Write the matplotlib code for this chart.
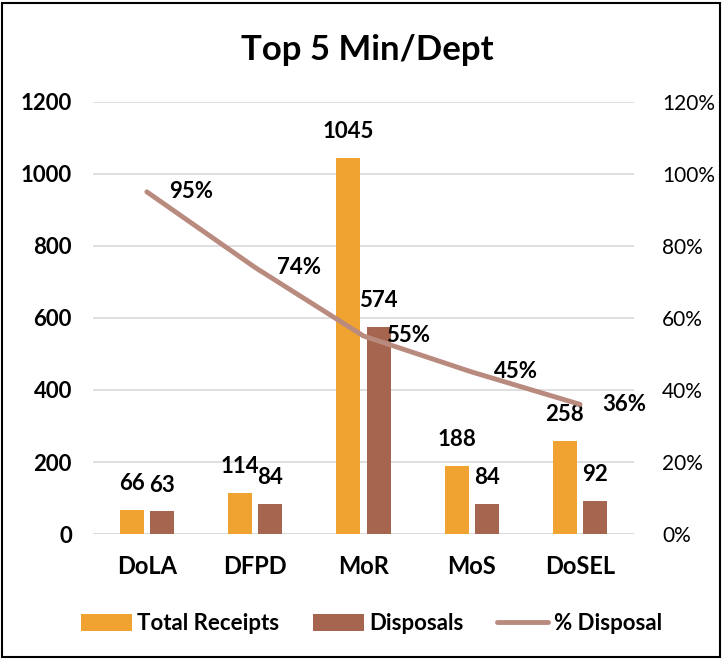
import matplotlib
matplotlib.use("Agg")
import matplotlib.pyplot as plt
import numpy as np
from matplotlib.patches import Rectangle

fam = ["Lato", "DejaVu Sans"]
plt.rcParams['font.family'] = fam

categories = ["DoLA", "DFPD", "MoR", "MoS", "DoSEL"]
total_receipts = [66, 114, 1045, 188, 258]
disposals = [63, 84, 574, 84, 92]
pct_disposal = [95, 74, 55, 45, 36]
left_ticks = [0, 200, 400, 600, 800, 1000, 1200]
right_ticks = [0, 20, 40, 60, 80, 100, 120]

c_orange = "#F0A330"
c_brown = "#A5654E"
c_line = "#B98A7E"

fig = plt.figure(figsize=(7.24, 6.61), dpi=100)
fig.patches.append(Rectangle((0.003, 0.006), 0.991, 0.99, transform=fig.transFigure,
                             fill=False, edgecolor="black", linewidth=1.5))
ax = fig.add_axes([0.128, 0.192, 0.748, 0.654])
x = np.arange(len(categories))
w = 0.22
off = 0.14
b1 = ax.bar(x - off, total_receipts, w, color=c_orange, label="Total Receipts", zorder=2)
b2 = ax.bar(x + off, disposals, w, color=c_brown, label="Disposals", zorder=2)
ax.set_ylim(0, 1200)
ax.set_xlim(-0.5, len(categories) - 0.5)
ax.set_yticks(left_ticks)
ax.set_yticklabels([str(t) for t in left_ticks], fontsize=16, fontweight="bold")
ax.set_xticks(x)
ax.set_xticklabels(categories, fontsize=17, fontweight="bold")
ax.tick_params(axis="x", length=0, pad=15)
ax.tick_params(axis="y", length=0, pad=15)
ax.grid(axis="y", color="#D9D9D9", linewidth=1.2, zorder=0)
for s in ax.spines.values():
    s.set_visible(False)
ax.axhline(0, color="#D9D9D9", linewidth=1.2, zorder=1)

for rects, vals in ((b1, total_receipts), (b2, disposals)):
    for r, v in zip(rects, vals):
        ax.annotate(str(v), (r.get_x() + r.get_width() / 2, v), xytext=(0, 19),
                    textcoords="offset points", ha="center", va="center",
                    fontsize=16, fontweight="bold")

ax2 = ax.twinx()
ax2.set_ylim(0, 120)
ln, = ax2.plot(x, pct_disposal, color=c_line, linewidth=3.5, solid_capstyle="round",
               label="% Disposal", zorder=3)
ax2.set_yticks(right_ticks)
ax2.set_yticklabels([f"{t}%" for t in right_ticks], fontsize=15)
ax2.tick_params(axis="y", length=0, pad=20)
for s in ax2.spines.values():
    s.set_visible(False)
for xi, v in zip(x, pct_disposal):
    ax2.annotate(f"{v}%", (xi, v), xytext=(16, 0), textcoords="offset points",
                 ha="left", va="center", fontsize=16, fontweight="bold")

fig.text(0.508, 0.925, "Top 5 Min/Dept", ha="center", va="center", fontsize=25, fontweight="bold")
fig.legend([b1, b2, ln], ["Total Receipts", "Disposals", "% Disposal"], loc="center",
           bbox_to_anchor=(0.513, 0.057), ncol=3, frameon=False,
           prop={"family": fam, "weight": "bold", "size": 16},
           handlelength=2.3, handleheight=0.8,
           columnspacing=1.5, handletextpad=0.25)

fig.savefig("out.png", dpi=100)
